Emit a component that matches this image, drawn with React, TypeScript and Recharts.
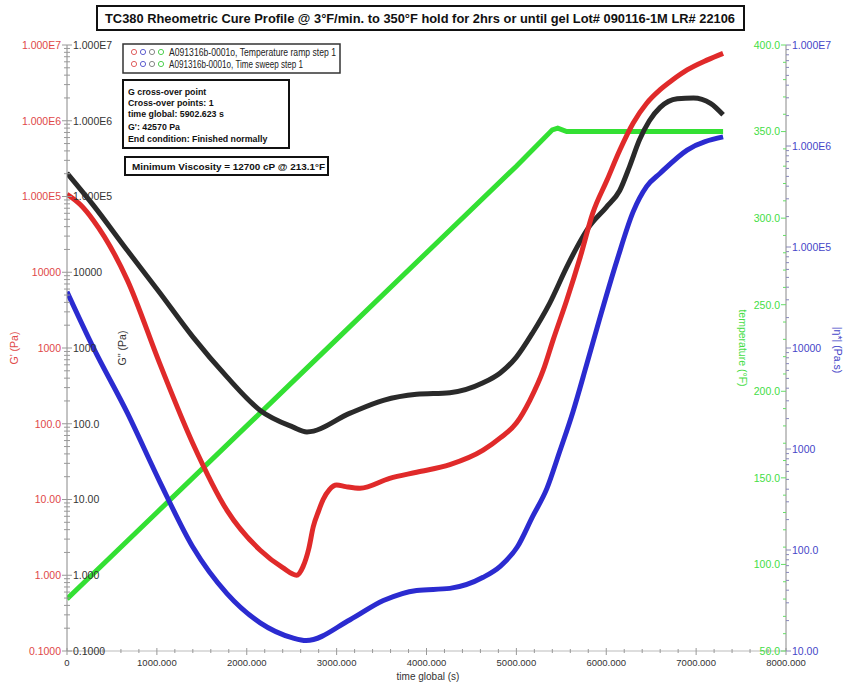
import React from "react";
import { LineChart, Line, XAxis, YAxis } from "recharts";

// G' storage modulus (Pa)
const gPrimeTime = [0, 150, 290, 670, 1030, 1400, 1780, 2150, 2400, 2555, 2625, 2690, 2740, 2800, 2850, 2920, 3000, 3100, 3260, 3590, 3890, 4260, 4630, 4820, 5000, 5150, 5300, 5410, 5560, 5710, 5850, 6010, 6150, 6300, 6450, 6600, 6740, 6900, 7120, 7300];
const gPrimeValues = [107000, 77600, 49000, 7940, 631, 55, 7.2, 2.14, 1.26, 1.0, 1.29, 2.24, 4.37, 7.1, 10, 13.5, 15.5, 14.8, 14.1, 19, 22.9, 28.8, 44.7, 65, 102, 204, 513, 1290, 4270, 15800, 60300, 166000, 407000, 933000, 1700000, 2570000, 3470000, 4680000, 6310000, 7760000];

// G'' loss modulus (Pa)
const gDoubleTime = [0, 290, 670, 1030, 1400, 1780, 2150, 2510, 2670, 3150, 3520, 3890, 4260, 4630, 4820, 5000, 5180, 5370, 5560, 5670, 5810, 6000, 6150, 6260, 6370, 6480, 6600, 6790, 6970, 7160, 7300];
const gDoubleValues = [204000, 77600, 19500, 5400, 1400, 415, 150, 91, 78, 138, 204, 245, 257, 347, 468, 759, 1580, 3890, 11700, 21000, 40000, 72000, 120000, 250000, 560000, 1000000, 1500000, 1950000, 2000000, 1700000, 1200000];

// |eta*| complex viscosity (Pa.s)
const etaTime = [0, 290, 670, 1030, 1400, 1780, 2150, 2510, 2660, 3150, 3520, 3890, 4260, 4630, 4820, 5010, 5180, 5340, 5480, 5630, 5780, 5930, 6120, 6300, 6450, 6600, 6900, 7300];
const etaValues = [36000, 10200, 2290, 479, 107, 37, 19, 13.5, 12.7, 20.4, 31.6, 39.8, 41.7, 53.7, 69, 107, 214, 407, 933, 2340, 6760, 20000, 74000, 224000, 398000, 537000, 912000, 1230000];

// temperature (°F)
const tempTime = [0, 1000, 2000, 3000, 4000, 5000, 5400, 5460, 5560, 6000, 7300];
const tempValues = [80, 130, 180, 230, 280, 330, 351, 352, 350, 350, 350];

const gMajors = [0.1, 1, 10, 100, 1000, 10000, 1e5, 1e6, 1e7];
const gLabels = ["0.1000", "1.000", "10.00", "100.0", "1000", "10000", "1.000E5", "1.000E6", "1.000E7"];
const etaMajors = [10, 100, 1000, 10000, 1e5, 1e6, 1e7];
const etaLabels = ["10.00", "100.0", "1000", "10000", "1.000E5", "1.000E6", "1.000E7"];
const tempMajors = [50, 100, 150, 200, 250, 300, 350, 400];
const tempLabels = ["50.0", "100.0", "150.0", "200.0", "250.0", "300.0", "350.0", "400.0"];
const timeMajors = [0, 1000, 2000, 3000, 4000, 5000, 6000, 7000, 8000];
const timeLabels = ["0", "1000.000", "2000.000", "3000.000", "4000.000", "5000.000", "6000.000", "7000.000", "8000.000"];

const zip = (ts: number[], vs: number[]) => ts.map((t, i) => ({ t, v: vs[i] }));
const gPrimeData = zip(gPrimeTime, gPrimeValues);
const gDoubleData = zip(gDoubleTime, gDoubleValues);
const etaData = zip(etaTime, etaValues);
const tempData = zip(tempTime, tempValues);

function logTicks(majors: number[]) {
  const out: number[] = [];
  majors.forEach((m, i) => {
    if (i === majors.length - 1) out.push(m);
    else for (let k = 1; k < 10; k++) out.push(m * k);
  });
  return out;
}
function linTicks(majors: number[], parts: number) {
  const out: number[] = [];
  majors.forEach((m, i) => {
    if (i === majors.length - 1) out.push(m);
    else {
      const step = (majors[i + 1] - m) / parts;
      for (let k = 0; k < parts; k++) out.push(m + k * step);
    }
  });
  return out;
}

const FONT = "Arial, 'Liberation Sans', Helvetica, sans-serif";

function findMajor(v: number, majors: number[]) {
  return majors.findIndex((m) => Math.abs(v - m) <= Math.max(Math.abs(m) * 1e-6, 1e-9));
}

function YTick(props: any) {
  const { x = 0, y = 0, payload, majors, labels, color, labelSide, lineSide, lineColor } = props;
  const idx = findMajor(payload.value, majors);
  const major = idx >= 0;
  const len = major ? 5 : 3;
  const dir = lineSide === "left" ? -1 : 1;
  return (
    <g>
      <line x1={x} x2={x + dir * len} y1={y} y2={y} stroke={lineColor} strokeWidth={1} />
      {major && (
        <text
          x={labelSide === "left" ? x - 6 : x + 6}
          y={y}
          dy={3.8}
          textAnchor={labelSide === "left" ? "end" : "start"}
          fill={color}
          fontSize={10.5}
          fontFamily={FONT}
        >
          {labels[idx]}
        </text>
      )}
    </g>
  );
}

function XTick(props: any) {
  const { x = 0, y = 0, payload } = props;
  const idx = findMajor(payload.value, timeMajors);
  const major = idx >= 0;
  return (
    <g>
      <line x1={x} x2={x} y1={y - (major ? 3 : 2)} y2={y + (major ? 4 : 2)} stroke="#999" />
      {major && (
        <text x={x} y={y + 15} textAnchor="middle" fill="#333" fontSize={9.5} fontFamily={FONT}>
          {timeLabels[idx]}
        </text>
      )}
    </g>
  );
}

const legendDots = ["#e06060", "#6060d0", "#888888", "#50d050"];

export default function App() {
  return (
    <div style={{ position: "absolute", left: 0, top: 0, width: 844, height: 698, background: "#fff" }}>
      <LineChart width={844} height={698} margin={{ top: 45, right: 0, bottom: 0, left: 0 }}>
        <XAxis
          dataKey="t"
          type="number"
          domain={[0, 8000]}
          allowDataOverflow
          ticks={linTicks(timeMajors, 5)}
          interval={0}
          tickSize={0}
          tickMargin={0}
          height={47}
          axisLine={{ stroke: "#bbb" }}
          tick={<XTick />}
        />
        <YAxis
          yAxisId="gp"
          orientation="left"
          width={67}
          scale="log"
          domain={[0.1, 1e7]}
          allowDataOverflow
          ticks={logTicks(gMajors)}
          interval={0}
          tickSize={0}
          tickMargin={0}
          axisLine={{ stroke: "#888" }}
          tick={<YTick majors={gMajors} labels={gLabels} color="#e04848" labelSide="left" lineSide="left" lineColor="#999" />}
        />
        <YAxis
          yAxisId="gpp"
          orientation="left"
          mirror
          width={60}
          scale="log"
          domain={[0.1, 1e7]}
          allowDataOverflow
          ticks={logTicks(gMajors)}
          interval={0}
          tickSize={0}
          tickMargin={0}
          axisLine={false}
          tick={<YTick majors={gMajors} labels={gLabels} color="#333" labelSide="right" lineSide="right" lineColor="#999" />}
        />
        <YAxis
          yAxisId="eta"
          orientation="right"
          width={58}
          scale="log"
          domain={[10, 1e7]}
          allowDataOverflow
          ticks={logTicks(etaMajors)}
          interval={0}
          tickSize={0}
          tickMargin={0}
          axisLine={{ stroke: "#888" }}
          tick={<YTick majors={etaMajors} labels={etaLabels} color="#4646c8" labelSide="right" lineSide="right" lineColor="#8888bb" />}
        />
        <YAxis
          yAxisId="temp"
          orientation="right"
          mirror
          width={60}
          domain={[50, 400]}
          allowDataOverflow
          ticks={linTicks(tempMajors, 5)}
          interval={0}
          tickSize={0}
          tickMargin={0}
          axisLine={false}
          tick={<YTick majors={tempMajors} labels={tempLabels} color="#44dd44" labelSide="left" lineSide="left" lineColor="#66dd66" />}
        />
        <Line yAxisId="temp" data={tempData} dataKey="v" type="linear" stroke="#33e033" strokeWidth={5} dot={false} isAnimationActive={false} />
        <Line yAxisId="gpp" data={gDoubleData} dataKey="v" type="monotone" stroke="#2a2a2a" strokeWidth={5} dot={false} isAnimationActive={false} />
        <Line yAxisId="gp" data={gPrimeData} dataKey="v" type="monotone" stroke="#e02a2a" strokeWidth={5} dot={false} isAnimationActive={false} />
        <Line yAxisId="eta" data={etaData} dataKey="v" type="monotone" stroke="#2b2bd0" strokeWidth={5} dot={false} isAnimationActive={false} />
      </LineChart>

      <svg width={844} height={698} style={{ position: "absolute", left: 0, top: 0, pointerEvents: "none" }}>
        <rect x={97} y={6} width={647} height={24} fill="#fff" stroke="#111" strokeWidth={2} />
        <text
          x={420}
          y={23}
          textAnchor="middle"
          fontSize={13}
          fontWeight="bold"
          fontFamily="'Liberation Sans Narrow', 'Arial Narrow', Arial, sans-serif"
          textLength={630}
          lengthAdjust="spacingAndGlyphs"
          fill="#111"
        >
          TC380 Rheometric Cure Profile @ 3°F/min. to 350°F hold for 2hrs or until gel  Lot# 090116-1M  LR# 22106
        </text>

        <rect x={123} y={44} width={217} height={29} fill="#fff" stroke="#333" strokeWidth={1.5} />
        {legendDots.map((c, i) => (
          <circle key={"a" + i} cx={134 + i * 9} cy={52} r={2.6} fill="none" stroke={c} strokeWidth={1} />
        ))}
        {legendDots.map((c, i) => (
          <circle key={"b" + i} cx={134 + i * 9} cy={64} r={2.6} fill="none" stroke={c} strokeWidth={1} />
        ))}
        <text x={169} y={55.5} fontSize={10} fontFamily={FONT} fill="#222" textLength={167} lengthAdjust="spacingAndGlyphs">
          A091316b-0001o, Temperature ramp step 1
        </text>
        <text x={169} y={67.5} fontSize={10} fontFamily={FONT} fill="#222" textLength={134} lengthAdjust="spacingAndGlyphs">
          A091316b-0001o, Time sweep step 1
        </text>

        <rect x={123} y={80} width={166} height={68} fill="#fff" stroke="#111" strokeWidth={2} />
        <g fontSize={8.8} fontWeight="bold" fontFamily={FONT} fill="#111">
          <text x={128} y={94.5}>G cross-over point</text>
          <text x={128} y={105.5}>Cross-over points: 1</text>
          <text x={128} y={117}>time global: 5902.623 s</text>
          <text x={128} y={130}>G': 42570 Pa</text>
          <text x={128} y={141.5}>End condition: Finished normally</text>
        </g>

        <rect x={125} y={157} width={203} height={18} fill="#fff" stroke="#111" strokeWidth={2} />
        <text x={132} y={170} fontSize={9} fontWeight="bold" fontFamily={FONT} fill="#111" textLength={193} lengthAdjust="spacingAndGlyphs">
          Minimum Viscosity = 12700 cP @ 213.1°F
        </text>

        <text x={18} y={348} transform="rotate(-90 18 348)" textAnchor="middle" fontSize={10.5} fontFamily={FONT} fill="#e04848">
          G' (Pa)
        </text>
        <text x={126} y={348} transform="rotate(-90 126 348)" textAnchor="middle" fontSize={10.5} fontFamily={FONT} fill="#333">
          G'' (Pa)
        </text>
        <text x={739} y={348} transform="rotate(90 739 348)" textAnchor="middle" fontSize={10.5} fontFamily={FONT} fill="#44dd44">
          temperature (°F)
        </text>
        <text x={834} y={350} transform="rotate(90 834 350)" textAnchor="middle" fontSize={10.5} fontFamily={FONT} fill="#4646c8">
          |η*| (Pa.s)
        </text>
        <text x={428} y={680} textAnchor="middle" fontSize={10} fontFamily={FONT} fill="#333">
          time global (s)
        </text>
      </svg>
    </div>
  );
}
